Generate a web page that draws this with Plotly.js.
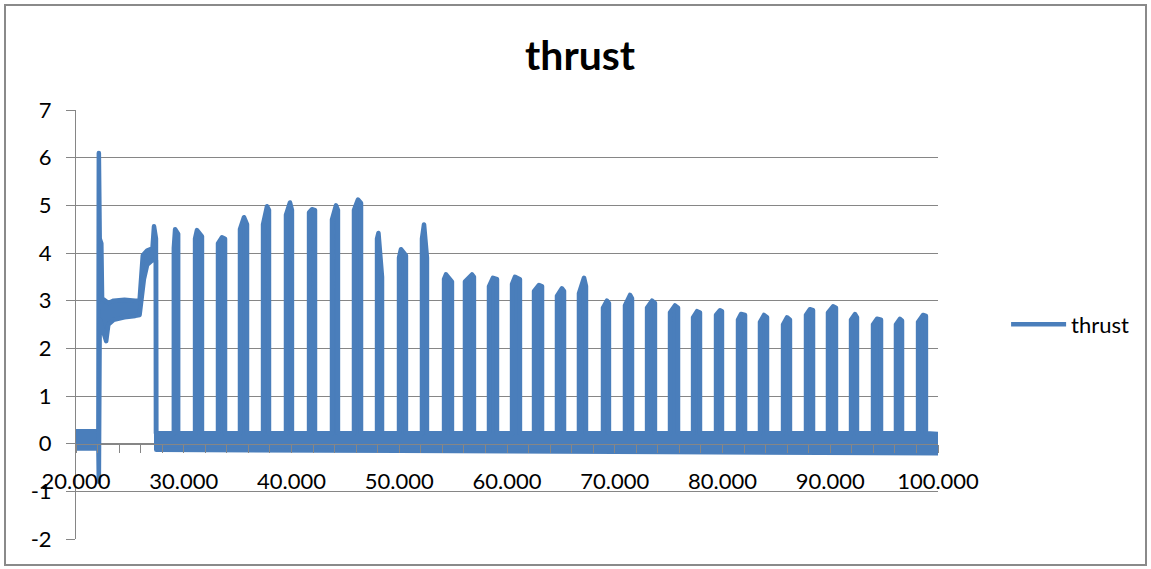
<!DOCTYPE html>
<html>
<head>
<meta charset="utf-8">
<script src="https://cdn.plot.ly/plotly-3.0.1.min.js"></script>
<style>
  html, body { margin: 0; padding: 0; background: #fff; }
  #wrap { position: relative; width: 1151px; height: 569px; }
  #chart { width: 1151px; height: 569px; }
  #frame { position: absolute; left: 4px; top: 4px; width: 1143px; height: 562px;
           border: 2px solid #8a8a8a; box-sizing: border-box; pointer-events: none; }
  #chart .scatterlayer path.js-line { stroke-linejoin: round !important; stroke-linecap: round !important; }
  #chart .scatterlayer path.js-fill { stroke-linejoin: round !important; }
</style>
</head>
<body>
<div id="wrap"><div id="chart"></div><div id="frame"></div></div>
<script>
// ---- data ----
const xTicks = [20, 30, 40, 50, 60, 70, 80, 90, 100];
const yTicks = [-2, -1, 0, 1, 2, 3, 4, 5, 6, 7];
const baseTop = 0.22;            // upper edge of the noisy baseline band

// start-up transient (upper edge of the trace)
const startT = [20, 22.08, 22.12, 22.2, 22.35, 22.42, 23.0, 23.5, 24.5, 25.5, 25.9, 26.2, 26.6, 27.1, 27.24, 27.42, 27.42];
const startV = [0.26, 0.26, 6.1, 4.3, 4.2, 3.05, 2.95, 3.0, 3.02, 3.0, 3.0, 3.95, 4.05, 4.1, 4.56, 4.3, 0.22];

// pulses 2..35: on / off time, peak time, peak value, top-left and top-right values
const pulseOn    = [29.08, 31.05, 33.18, 35.22, 37.36, 39.49, 41.63, 43.76, 45.80, 47.94, 49.98, 52.11, 54.16, 56.10, 58.33, 60.47, 62.51, 64.64, 66.68, 68.91, 70.95, 73.00, 75.13, 77.27, 79.40, 81.44, 83.48, 85.62, 87.75, 89.79, 91.93, 93.97, 96.10, 98.15];
const pulseOff   = [29.48, 31.69, 33.83, 35.87, 37.91, 40.04, 42.18, 44.31, 46.45, 48.40, 50.62, 52.57, 54.89, 56.93, 59.07, 61.20, 63.25, 65.29, 67.33, 69.46, 71.60, 73.73, 75.87, 77.91, 79.95, 82.09, 84.13, 86.26, 88.40, 90.53, 92.48, 94.71, 96.66, 98.88];
const pulsePeakT = [29.20, 31.23, 33.55, 35.59, 37.73, 39.86, 41.90, 44.13, 46.17, 48.07, 50.16, 52.30, 54.34, 56.75, 58.70, 60.74, 62.97, 65.10, 67.15, 69.28, 71.42, 73.46, 75.59, 77.64, 79.77, 81.72, 83.85, 85.99, 88.11, 90.26, 92.30, 94.34, 96.47, 98.61];
const pulsePeak  = [4.50, 4.48, 4.33, 4.75, 4.98, 5.06, 4.92, 5.00, 5.12, 4.42, 4.08, 4.60, 3.55, 3.55, 3.48, 3.50, 3.33, 3.26, 3.48, 3.00, 3.12, 3.00, 2.90, 2.78, 2.80, 2.72, 2.70, 2.65, 2.82, 2.88, 2.72, 2.62, 2.62, 2.70];
const pulseLeft  = [4.10, 4.30, 4.20, 4.50, 4.60, 4.80, 4.85, 4.70, 4.90, 4.30, 3.90, 4.30, 3.45, 3.40, 3.30, 3.35, 3.20, 3.10, 3.15, 2.85, 2.90, 2.85, 2.75, 2.65, 2.70, 2.60, 2.55, 2.50, 2.70, 2.75, 2.60, 2.50, 2.50, 2.55];
const pulseRight = [4.40, 4.35, 4.30, 4.60, 4.90, 4.90, 4.90, 4.90, 5.05, 3.50, 3.95, 3.90, 3.40, 3.50, 3.45, 3.45, 3.30, 3.20, 3.30, 2.95, 3.05, 2.95, 2.85, 2.75, 2.78, 2.70, 2.65, 2.60, 2.80, 2.85, 2.65, 2.60, 2.58, 2.68];
const endT = 100, endV = 0.20;

// lower edge of the trace
const lowT = [20, 22.08, 22.12, 22.2, 22.8, 23.0, 23.5, 24.5, 25.5, 25.9, 26.3, 26.6, 27.1, 27.42, 27.45, 50, 70, 100];
const lowV = [-0.10, -0.10, -0.80, 2.60, 2.15, 2.50, 2.60, 2.65, 2.68, 2.70, 3.45, 3.75, 3.85, 3.85, -0.13, -0.15, -0.17, -0.20];

// ---- build the upper edge polyline from the read values ----
const upT = startT.slice(), upV = startV.slice();
for (let i = 0; i < pulseOn.length; i++) {
  upT.push(pulseOn[i], pulseOn[i], pulsePeakT[i], pulseOff[i], pulseOff[i]);
  upV.push(baseTop, pulseLeft[i], pulsePeak[i], pulseRight[i], baseTop);
}
upT.push(endT); upV.push(endV);

const blue = '#4a7ebb';
const grey = '#868686';
const fontFam = 'Lato, "Open Sans", sans-serif';

const traces = [
  { x: upT, y: upV, type: 'scatter', mode: 'lines', name: 'thrust',
    line: { color: blue, width: 4.5, simplify: false }, showlegend: true },
  { x: lowT, y: lowV, type: 'scatter', mode: 'lines', name: 'thrust-low',
    line: { color: blue, width: 4.5, simplify: false }, fill: 'tonexty', fillcolor: blue,
    showlegend: false }
];

const layout = {
  width: 1151, height: 569,
  margin: { l: 76, r: 213, t: 110, b: 30, pad: 0 },
  paper_bgcolor: '#fff', plot_bgcolor: '#fff',
  font: { family: fontFam, size: 22, color: '#000' },
  title: { text: '<b>thrust</b>', font: { family: fontFam, size: 41, color: '#000' },
           x: 0.504, xref: 'container', xanchor: 'center', y: 0.903, yref: 'container', yanchor: 'middle' },
  xaxis: {
    range: [20, 100], anchor: 'free', position: 2 / 9, automargin: false,
    tickmode: 'array', tickvals: xTicks, ticktext: xTicks.map(v => v.toFixed(3)),
    ticks: 'outside', ticklen: 8, tickcolor: grey, tickwidth: 1,
    showline: true, linecolor: grey, linewidth: 1, showgrid: false, zeroline: false,
    ticklabelstandoff: 10,
    tickfont: { family: fontFam, size: 22, color: '#000' },
    minor: { dtick: 2, tick0: 20, ticks: 'outside', ticklen: 8, tickcolor: grey, showgrid: false }
  },
  yaxis: {
    range: [-2, 7], automargin: false,
    tickmode: 'array', tickvals: yTicks, ticktext: yTicks.map(String),
    ticks: 'outside', ticklen: 9, tickcolor: grey, tickwidth: 1,
    showline: true, linecolor: grey, linewidth: 1,
    showgrid: true, gridcolor: grey, gridwidth: 1, zeroline: false,
    ticklabelstandoff: 10,
    tickfont: { family: fontFam, size: 22, color: '#000' }
  },
  legend: { x: 1.079, xanchor: 'left', y: 0.5, yanchor: 'middle',
            font: { family: fontFam, size: 22, color: '#000' }, itemwidth: 55,
            bgcolor: 'rgba(0,0,0,0)' },
  showlegend: true
};

Plotly.newPlot('chart', traces, layout, { staticPlot: true, displayModeBar: false });
</script>
</body>
</html>
